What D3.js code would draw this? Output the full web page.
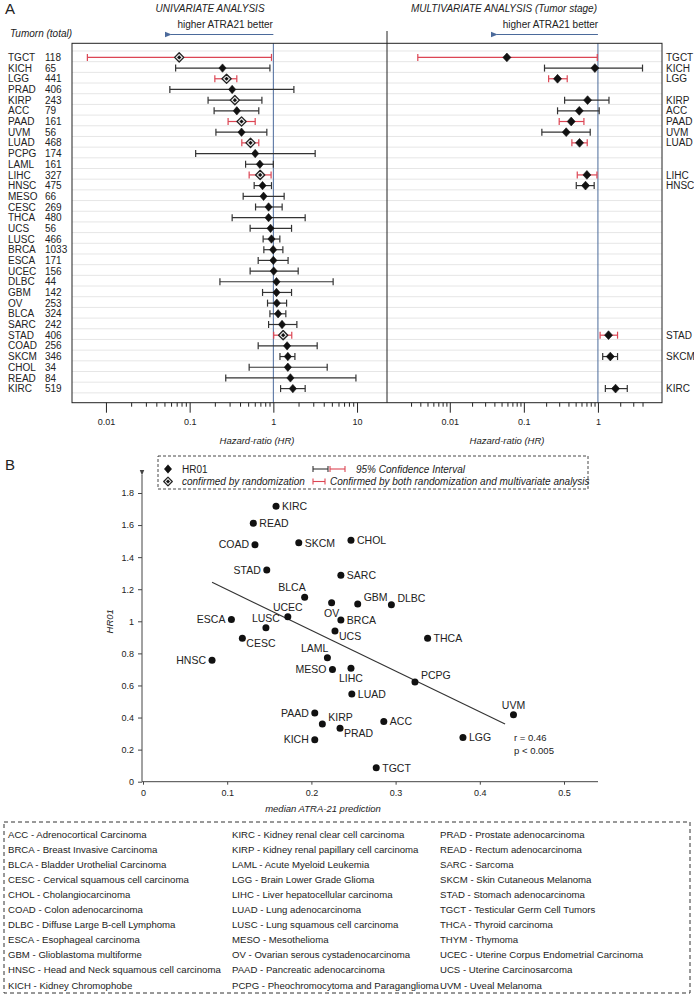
<!DOCTYPE html>
<html><head><meta charset="utf-8">
<script src="https://cdn.jsdelivr.net/npm/d3@7"></script>
<style>
body{margin:0;background:#fff}
svg{display:block}
text{font-family:"Liberation Sans",Arial,Helvetica,sans-serif;fill:#222}
</style></head>
<body><svg id="c" width="694" height="998"></svg>
<script>
// ---------- DATA: Panel A (univariate) ----------
const categories = ["TGCT","KICH","LGG","PRAD","KIRP","ACC","PAAD","UVM","LUAD","PCPG","LAML","LIHC","HNSC","MESO","CESC","THCA","UCS","LUSC","BRCA","ESCA","UCEC","DLBC","GBM","OV","BLCA","SARC","STAD","COAD","SKCM","CHOL","READ","KIRC"];
const totals = [118,65,441,406,243,79,161,56,468,174,161,327,475,66,269,480,56,466,1033,171,156,44,142,253,324,242,406,256,346,34,84,519];
const uniHR   = [0.075,0.247,0.276,0.322,0.347,0.366,0.417,0.417,0.534,0.607,0.69,0.696,0.743,0.764,0.877,0.877,0.926,0.95,0.995,1.0,1.01,1.09,1.09,1.10,1.14,1.27,1.31,1.46,1.49,1.49,1.6,1.71];
const uniLow  = [0.006,0.068,0.2,0.058,0.166,0.196,0.288,0.206,0.42,0.118,0.466,0.514,0.59,0.436,0.613,0.322,0.528,0.755,0.77,0.659,0.528,0.23,0.743,0.852,0.91,0.877,1.01,0.659,1.2,0.514,0.27,1.22];
const uniHigh = [0.95,0.91,0.366,1.76,0.73,0.67,0.607,0.836,0.67,3.16,1.0,0.94,0.95,1.346,1.274,2.4,1.65,1.196,1.3,1.5,1.98,5.18,1.65,1.44,1.41,1.91,1.66,3.34,1.81,4.4,9.7,2.4];
const confirmedByRandomization = ["TGCT","LGG","KIRP","PAAD","LUAD","LIHC","STAD"];
const confirmedByBoth = ["TGCT","LGG","PAAD","LUAD","LIHC","STAD"];

// ---------- DATA: Panel A (multivariate) ----------
const multiCats = ["TGCT","KICH","LGG","KIRP","ACC","PAAD","UVM","LUAD","LIHC","HNSC","STAD","SKCM","KIRC"];
const multiHR   = [0.059,0.91,0.285,0.725,0.56,0.436,0.373,0.565,0.71,0.68,1.39,1.47,1.73];
const multiLow  = [0.0037,0.19,0.216,0.355,0.285,0.30,0.175,0.445,0.526,0.51,1.07,1.16,1.26];
const multiHigh = [0.98,4.0,0.385,1.41,1.04,0.647,0.787,0.717,0.97,0.89,1.84,1.84,2.49];

const uniTicks = [0.01,0.1,1,10];
const uniMinor = [0.02,0.03,0.04,0.05,0.06,0.07,0.08,0.09,0.2,0.3,0.4,0.5,0.6,0.7,0.8,0.9,2,3,4,5,6,7,8,9];
const multiTicks = [0.01,0.1,1];
const multiMinor = [0.003,0.004,0.005,0.006,0.007,0.008,0.009,0.02,0.03,0.04,0.05,0.06,0.07,0.08,0.09,0.2,0.3,0.4,0.5,0.6,0.7,0.8,0.9,2,3,4];

// ---------- DATA: Panel B (scatter) ----------
const scatterCats = ["KIRC","READ","COAD","SKCM","CHOL","STAD","SARC","BLCA","GBM","DLBC","OV","UCEC","ESCA","LUSC","BRCA","UCS","CESC","THCA","HNSC","LAML","MESO","LIHC","PCPG","LUAD","PAAD","KIRP","ACC","PRAD","KICH","TGCT","LGG","UVM"];
const medianPred = [0.158,0.131,0.133,0.185,0.247,0.147,0.235,0.192,0.255,0.295,0.224,0.172,0.105,0.146,0.235,0.228,0.118,0.338,0.082,0.219,0.225,0.247,0.323,0.248,0.204,0.213,0.286,0.234,0.204,0.277,0.38,0.44];
const hr01       = [1.717,1.611,1.478,1.49,1.505,1.32,1.287,1.15,1.108,1.104,1.116,1.029,1.012,0.96,1.008,0.94,0.894,0.894,0.757,0.773,0.70,0.707,0.622,0.547,0.428,0.36,0.376,0.333,0.262,0.087,0.276,0.417];
const trendX = [0.082,0.43];
const trendY = [1.243,0.36];
const scatterYTicks = [0,0.2,0.4,0.6,0.8,1,1.2,1.4,1.6,1.8];
const scatterXTicks = [0,0.1,0.2,0.3,0.4,0.5];

// ---------- DATA: abbreviations legend ----------
const abbrevCol1 = ["ACC - Adrenocortical Carcinoma","BRCA - Breast Invasive Carcinoma","BLCA - Bladder Urothelial Carcinoma","CESC - Cervical squamous cell carcinoma","CHOL - Cholangiocarcinoma","COAD - Colon adenocarcinoma","DLBC - Diffuse Large B-cell Lymphoma","ESCA - Esophageal carcinoma","GBM - Glioblastoma multiforme","HNSC - Head and Neck squamous cell carcinoma","KICH - Kidney Chromophobe"];
const abbrevCol2 = ["KIRC - Kidney renal clear cell carcinoma","KIRP - Kidney renal papillary cell carcinoma","LAML - Acute Myeloid Leukemia","LGG - Brain Lower Grade Glioma","LIHC - Liver hepatocellular carcinoma","LUAD - Lung adenocarcinoma","LUSC - Lung squamous cell carcinoma","MESO - Mesothelioma","OV - Ovarian serous cystadenocarcinoma","PAAD - Pancreatic adenocarcinoma","PCPG - Pheochromocytoma and Paraganglioma"];
const abbrevCol3 = ["PRAD - Prostate adenocarcinoma","READ - Rectum adenocarcinoma","SARC - Sarcoma","SKCM - Skin Cutaneous Melanoma","STAD - Stomach adenocarcinoma","TGCT - Testicular Germ Cell Tumors","THCA - Thyroid carcinoma","THYM - Thymoma","UCEC - Uterine Corpus Endometrial Carcinoma","UCS - Uterine Carcinosarcoma","UVM - Uveal Melanoma"];

// label placement codes for scatter (r=right,l=left,a=above,b=below,ur/ul/br)
const labelPlace = {KIRC:"r",READ:"r",COAD:"l",SKCM:"r",CHOL:"r",STAD:"l",SARC:"r",BLCA:"ul",GBM:"ur",DLBC:"ur",OV:"b",UCEC:"a",ESCA:"l",LUSC:"a",BRCA:"r",UCS:"br",CESC:"br",THCA:"r",HNSC:"l",LAML:"ul",MESO:"l",LIHC:"b",PCPG:"ur",LUAD:"r",PAAD:"l",KIRP:"ur",ACC:"r",PRAD:"br",KICH:"l",TGCT:"r",LGG:"r",UVM:"a"};

// ---------- DRAW ----------
const svg = d3.select("#c");
const RED = "#dc4654", DARK = "#333", BLUE = "#4b6a9b", GRID = "#e6e6e6";

const boxL = 72, boxR = 662, boxT = 43.3, boxB = 402.7, divX = 387;
const y = d3.scalePoint().domain(categories).range([boxT, boxB]).padding(1.32);
const xU = d3.scaleLog().domain([0.00393, 22.8]).range([boxL, divX]);
const xM = d3.scaleLog().domain([0.00142, 7.33]).range([divX, boxR]);
const step = y.step();

svg.append("text").attr("x",5).attr("y",14).attr("font-size",15).text("A");
svg.append("text").attr("x",210).attr("y",12).attr("text-anchor","middle").attr("font-size",10).attr("font-style","italic").text("UNIVARIATE ANALYSIS");
svg.append("text").attr("x",504).attr("y",12).attr("text-anchor","middle").attr("font-size",10).attr("font-style","italic").text("MULTIVARIATE ANALYSIS (Tumor stage)");
svg.append("text").attr("x",10).attr("y",37).attr("font-size",10).attr("font-style","italic").text("Tumorn (total)");

// arrows
const defs = svg.append("defs");
defs.append("marker").attr("id","ab").attr("viewBox","0 0 10 10").attr("refX",1).attr("refY",5)
  .attr("markerWidth",6).attr("markerHeight",6).attr("orient","auto-start-reverse")
  .append("path").attr("d","M10,1 L0,5 L10,9 Z").attr("fill",BLUE);
defs.append("marker").attr("id","ak").attr("viewBox","0 0 10 10").attr("refX",1).attr("refY",5)
  .attr("markerWidth",6).attr("markerHeight",6).attr("orient","auto-start-reverse")
  .append("path").attr("d","M10,1 L0,5 L10,9 Z").attr("fill","#444");

[[xU,167],[xM,493]].forEach(([sc,x0])=>{
  const x1 = sc(1);
  svg.append("text").attr("x",(x0+x1)/2+5).attr("y",28).attr("text-anchor","middle").attr("font-size",10).text("higher ATRA21 better");
  svg.append("line").attr("x1",x1).attr("x2",x0+4).attr("y1",34.5).attr("y2",34.5)
    .attr("stroke",BLUE).attr("stroke-width",1.2).attr("marker-end","url(#ab)");
});

// gridlines
const g = svg.append("g");
g.selectAll("line.grid").data([categories[0]].concat(categories)).enter().append("line")
  .attr("x1",boxL).attr("x2",boxR)
  .attr("y1",(d,i)=> i===0 ? y(d)-step*0.6 : y(d)+step*0.4)
  .attr("y2",(d,i)=> i===0 ? y(d)-step*0.6 : y(d)+step*0.4)
  .attr("stroke",GRID).attr("stroke-width",1);

// HR=1 lines
[xU,xM].forEach(sc=>{
  svg.append("line").attr("x1",sc(1)).attr("x2",sc(1)).attr("y1",boxT).attr("y2",boxB).attr("stroke",BLUE).attr("stroke-width",1);
});

// box + divider
svg.append("rect").attr("x",boxL).attr("y",boxT).attr("width",boxR-boxL).attr("height",boxB-boxT).attr("fill","none").attr("stroke","#222").attr("stroke-width",1);
svg.append("line").attr("x1",divX).attr("x2",divX).attr("y1",31).attr("y2",boxB).attr("stroke","#222").attr("stroke-width",1);

// left labels
svg.append("g").selectAll("text").data(categories).enter().append("text")
  .attr("x",8).attr("y",d=>y(d)+3.6).attr("font-size",10).text(d=>d);
svg.append("g").selectAll("text").data(totals).enter().append("text")
  .attr("x",45).attr("y",(d,i)=>y(categories[i])+3.6).attr("font-size",10).text(d=>d);
svg.append("g").selectAll("text").data(multiCats).enter().append("text")
  .attr("x",666).attr("y",d=>y(d)+3.6).attr("font-size",10).text(d=>d);

function ci(gr, sc, cy, lo, hi, col){
  gr.append("line").attr("x1",sc(lo)).attr("x2",sc(hi)).attr("y1",cy).attr("y2",cy).attr("stroke",col).attr("stroke-width",1.2);
  [lo,hi].forEach(v=>gr.append("line").attr("x1",sc(v)).attr("x2",sc(v)).attr("y1",cy-3.5).attr("y2",cy+3.5).attr("stroke",col).attr("stroke-width",1.2));
}
function diamond(gr, cx, cy, w, h, fill, stroke, sw){
  gr.append("path").attr("d",`M${cx},${cy-h} L${cx+w},${cy} L${cx},${cy+h} L${cx-w},${cy} Z`)
    .attr("fill",fill).attr("stroke",stroke||"none").attr("stroke-width",sw||0).attr("stroke-linejoin","round");
}

const gU = svg.append("g");
categories.forEach((c,i)=>{
  const cy = y(c);
  ci(gU, xU, cy, uniLow[i], uniHigh[i], confirmedByBoth.includes(c)?RED:DARK);
  const cx = xU(uniHR[i]);
  if(confirmedByRandomization.includes(c)){
    diamond(gU,cx,cy,4.6,4.6,"#e8e8e8","#222",1.3);
    diamond(gU,cx,cy,2.1,2.1,"#111");
  } else {
    diamond(gU,cx,cy,3.6,4.2,"#111","#111",0.6);
  }
});
const gM = svg.append("g");
multiCats.forEach((c,i)=>{
  const cy = y(c);
  ci(gM, xM, cy, multiLow[i], multiHigh[i], confirmedByBoth.includes(c)?RED:DARK);
  diamond(gM, xM(multiHR[i]), cy, 4, 4.4, "#111","#111",0.6);
});

// bottom axes
function logAxis(sc, majors, minors){
  const a = svg.append("g").attr("transform",`translate(0,${boxB})`)
    .call(d3.axisBottom(sc).tickValues(majors).tickSize(10).tickPadding(6).tickFormat(d=>String(d)));
  a.select(".domain").remove();
  a.selectAll("line").attr("stroke","#222");
  a.selectAll("text").attr("font-size",9).attr("fill","#333").attr("font-family","Liberation Sans, Arial, sans-serif");
  const b = svg.append("g").attr("transform",`translate(0,${boxB})`)
    .call(d3.axisBottom(sc).tickValues(minors).tickSize(4).tickFormat(""));
  b.select(".domain").remove();
  b.selectAll("line").attr("stroke","#222");
}
logAxis(xU, uniTicks, uniMinor);
logAxis(xM, multiTicks, multiMinor);
svg.append("text").attr("x",257).attr("y",444).attr("text-anchor","middle").attr("font-size",9.5).attr("font-style","italic").text("Hazard-ratio (HR)");
svg.append("text").attr("x",507).attr("y",444).attr("text-anchor","middle").attr("font-size",9.5).attr("font-style","italic").text("Hazard-ratio (HR)");

// ---------- Panel B ----------
svg.append("text").attr("x",5).attr("y",470).attr("font-size",15).text("B");
const sx = d3.scaleLinear().domain([0,0.5]).range([143,564]);
const sy = d3.scaleLinear().domain([0,1.8]).range([781.7,493]);

// legend box
svg.append("rect").attr("x",158).attr("y",456).attr("width",430).attr("height",33).attr("fill","none")
  .attr("stroke","#333").attr("stroke-width",0.9).attr("stroke-dasharray","3,2");
diamond(svg,168,469,3.6,4.2,"#111","#111",0.6);
svg.append("text").attr("x",182).attr("y",472.5).attr("font-size",10).text("HR01");
diamond(svg,168,481.5,4.3,4.3,"#e8e8e8","#222",1.2);
diamond(svg,168,481.5,2,2,"#111");
svg.append("text").attr("x",182).attr("y",485).attr("font-size",10).attr("font-style","italic").text("confirmed by randomization");
function capLine(x0,x1,cy,col){
  svg.append("line").attr("x1",x0).attr("x2",x1).attr("y1",cy).attr("y2",cy).attr("stroke",col).attr("stroke-width",1.1);
  [x0,x1].forEach(v=>svg.append("line").attr("x1",v).attr("x2",v).attr("y1",cy-3).attr("y2",cy+3).attr("stroke",col).attr("stroke-width",1.1));
}
capLine(313,328,469,DARK); capLine(330,345,469,RED);
svg.append("text").attr("x",356).attr("y",472.5).attr("font-size",10).attr("font-style","italic").text("95% Confidence Interval");
capLine(313,325,481.5,RED);
svg.append("text").attr("x",330).attr("y",485).attr("font-size",10).attr("font-style","italic").text("Confirmed by both randomization and multivariate analysis");

// axes
const ya = svg.append("g").attr("transform","translate(142,0)")
  .call(d3.axisLeft(sy).tickValues(scatterYTicks).tickSize(4).tickPadding(4).tickFormat(d=>String(d)));
ya.select(".domain").remove();
ya.selectAll("line").attr("stroke","#444");
ya.selectAll("text").attr("font-size",9).attr("fill","#333");
svg.append("line").attr("x1",142).attr("x2",142).attr("y1",sy(0)).attr("y2",475).attr("stroke","#444").attr("stroke-width",1).attr("marker-end","url(#ak)");
const xa = svg.append("g").attr("transform",`translate(0,${sy(0)})`)
  .call(d3.axisBottom(sx).tickValues(scatterXTicks).tickSize(3).tickPadding(5).tickFormat(d=>String(d)));
xa.select(".domain").remove();
xa.selectAll("line").attr("stroke","#444");
xa.selectAll("text").attr("font-size",9).attr("fill","#333");
svg.append("line").attr("x1",142).attr("x2",598).attr("y1",sy(0)).attr("y2",sy(0)).attr("stroke","#444").attr("stroke-width",1);
svg.append("text").attr("transform",`translate(113,${sy(1)}) rotate(-90)`).attr("text-anchor","middle").attr("font-size",9.5).attr("font-style","italic").text("HR01");
svg.append("text").attr("x",323).attr("y",812).attr("text-anchor","middle").attr("font-size",9.5).attr("font-style","italic").text("median ATRA-21 prediction");

// trend line
svg.append("line").attr("x1",sx(trendX[0])).attr("y1",sy(trendY[0])).attr("x2",sx(trendX[1])).attr("y2",sy(trendY[1]))
  .attr("stroke","#333").attr("stroke-width",1.1);
svg.append("text").attr("x",sx(trendX[1])+9).attr("y",sy(0.27)+3).attr("font-size",9.5).text("r = 0.46");
svg.append("text").attr("x",sx(trendX[1])+9).attr("y",sy(0.19)+3).attr("font-size",9.5).text("p < 0.005");

// points + labels
const gp = svg.append("g");
gp.selectAll("circle").data(scatterCats).enter().append("circle")
  .attr("cx",(d,i)=>sx(medianPred[i])).attr("cy",(d,i)=>sy(hr01[i])).attr("r",3.5).attr("fill","#111");
gp.selectAll("text").data(scatterCats).enter().append("text")
  .attr("font-size",10.5)
  .each(function(d,i){
    const cx = sx(medianPred[i]), cy = sy(hr01[i]), p = labelPlace[d];
    const t = d3.select(this).text(d);
    let x=cx+6, yy=cy+3.8, anchor="start";
    if(p==="l"){x=cx-6; anchor="end";}
    if(p==="a"){x=cx; anchor="middle"; yy=cy-6;}
    if(p==="b"){x=cx; anchor="middle"; yy=cy+14;}
    if(p==="ur"){x=cx+6; yy=cy-3;}
    if(p==="ul"){x=cx+1; anchor="end"; yy=cy-6;}
    if(p==="br"){x=cx+4; yy=cy+9;}
    t.attr("x",x).attr("y",yy).attr("text-anchor",anchor);
  });

// ---------- abbreviations legend ----------
svg.append("rect").attr("x",4).attr("y",822).attr("width",686).attr("height",171).attr("fill","none")
  .attr("stroke","#333").attr("stroke-width",1).attr("stroke-dasharray","4,3");
[[abbrevCol1,8],[abbrevCol2,232],[abbrevCol3,440]].forEach(([arr,x])=>{
  svg.append("g").selectAll("text").data(arr).enter().append("text")
    .attr("x",x).attr("y",(d,i)=>837.5+i*15.1).attr("font-size",9.6).text(d=>d);
});
</script>
</body></html>
